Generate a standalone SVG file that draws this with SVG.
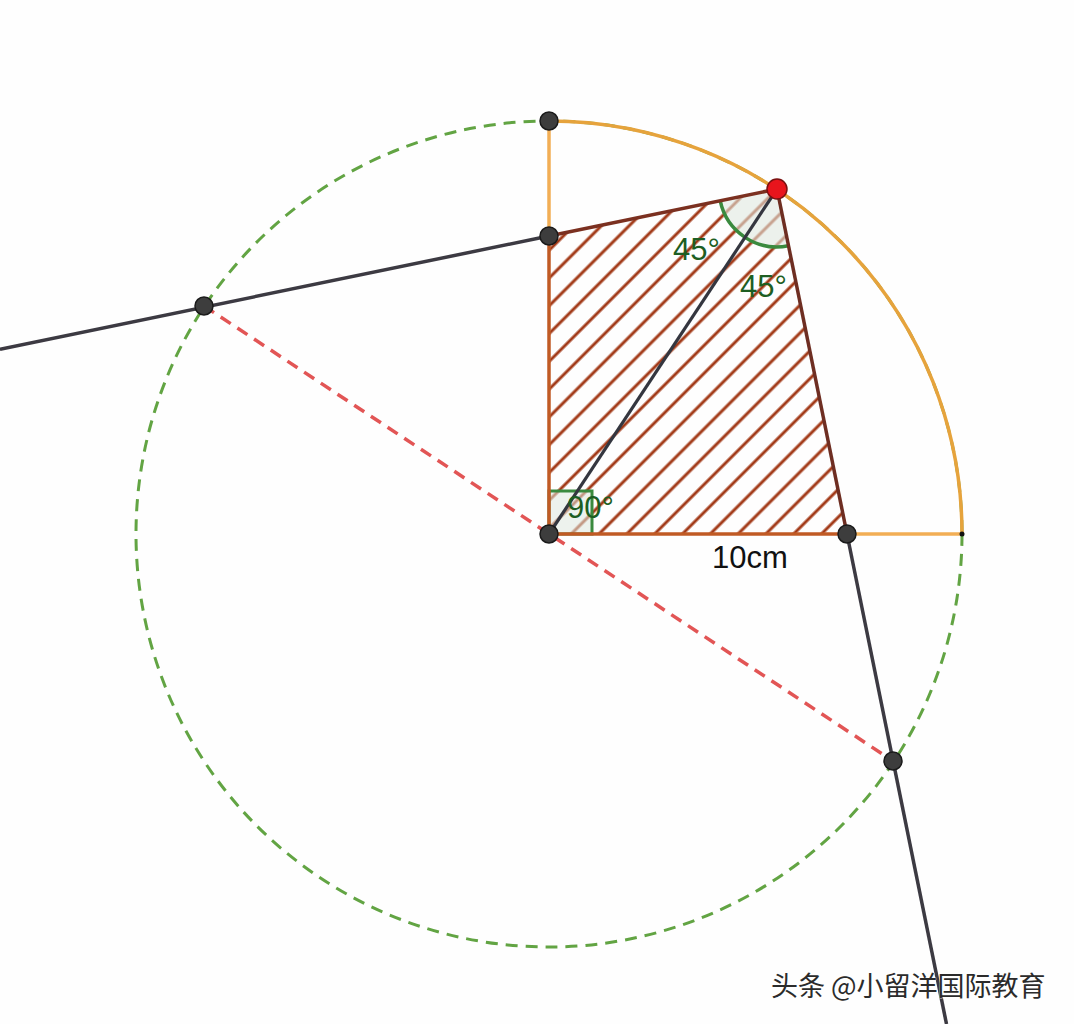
<svg xmlns="http://www.w3.org/2000/svg" width="1074" height="1024" viewBox="0 0 1074 1024">
<defs>
<pattern id="hatch" patternUnits="userSpaceOnUse" width="19.66" height="20" patternTransform="rotate(45)">
<line x1="14.74" y1="-5" x2="14.74" y2="25" stroke="#a23a18" stroke-width="3"/>
</pattern>
<style>
.pt{fill:#3d3d3d;stroke:#1a1a1a;stroke-width:1.5}
.ang{font-family:"Liberation Sans",Arial,sans-serif;font-size:31px;fill:#1d5e22}
.lbl{font-family:"Liberation Sans",Arial,sans-serif;font-size:31px;fill:#111}
.ext{stroke:#3c3a42;stroke-width:3.5;fill:none}
</style>
</defs>
<rect width="1074" height="1024" fill="#fefefe"/>
<g id="connectors">
<circle id="circle" cx="549" cy="534" r="413" fill="none" stroke="#62a443" stroke-width="3" stroke-dasharray="12 8"/>
<path id="quarter-arc" d="M549,121 A413,413 0 0 1 962,534" fill="none" stroke="#e6a33c" stroke-width="3.5"/>
<line x1="549" y1="121" x2="549" y2="236" stroke="#f2ae55" stroke-width="3.5"/>
<line x1="847" y1="534" x2="962" y2="534" stroke="#f2ae55" stroke-width="3.5"/>
<line id="diameter" x1="204" y1="306" x2="893" y2="761" stroke="#e25555" stroke-width="3.5" stroke-dasharray="12 8"/>
<line class="ext" x1="0" y1="349.2" x2="549" y2="236"/>
<line class="ext" x1="847" y1="534" x2="946.5" y2="1024"/>
<polygon id="quad" points="549,534 549,236 777,189 847,534" fill="url(#hatch)"/>
<rect x="549" y="491" width="43" height="43" fill="#dfe8df" fill-opacity="0.55" stroke="#3a8a3e" stroke-width="3"/>
<path d="M777,189 L720.2,200.7 A58,58 0 0 0 788.5,245.8 Z" fill="#dfe8df" fill-opacity="0.6" stroke="none"/>
<path d="M720.2,200.7 A58,58 0 0 0 788.5,245.8" fill="none" stroke="#3a8a3e" stroke-width="3.5"/>
<line x1="549" y1="534" x2="549" y2="236" stroke="#c05a24" stroke-width="3.5"/>
<line x1="549" y1="534" x2="847" y2="534" stroke="#c05a24" stroke-width="3.5"/>
<line x1="549" y1="236" x2="777" y2="189" stroke="#7b3020" stroke-width="3.5"/>
<line x1="777" y1="189" x2="847" y2="534" stroke="#6e2e22" stroke-width="3.5"/>
<line id="OP" x1="549" y1="534" x2="777" y2="189" stroke="#34363f" stroke-width="3.2"/>
</g>
<g id="labels">
<text class="ang" x="673" y="260">45°</text>
<text class="ang" x="740" y="297">45°</text>
<text class="ang" x="567" y="518">90°</text>
<text class="lbl" x="712" y="568">10cm</text>
</g>
<g id="node-top"><circle class="pt" cx="549" cy="121" r="9"/></g>
<g id="node-A"><circle class="pt" cx="549" cy="236" r="9"/></g>
<g id="node-left"><circle class="pt" cx="204" cy="306" r="9"/></g>
<g id="node-O"><circle class="pt" cx="549" cy="534" r="9"/></g>
<g id="node-B"><circle class="pt" cx="847" cy="534" r="9"/></g>
<g id="node-bottom"><circle class="pt" cx="893" cy="761" r="9"/></g>
<g id="node-right"><circle cx="962" cy="534" r="2.5" fill="#111"/></g>
<g id="node-P"><circle cx="777" cy="189" r="10" fill="#e8141c" stroke="#7a1010" stroke-width="1.5"/></g>
<text x="771" y="996" font-family="'Noto Sans CJK SC',sans-serif" font-size="27" fill="#2b2b2b" stroke="#ffffff" stroke-width="0.6" paint-order="stroke">头条 @小留洋国际教育</text>
</svg>
